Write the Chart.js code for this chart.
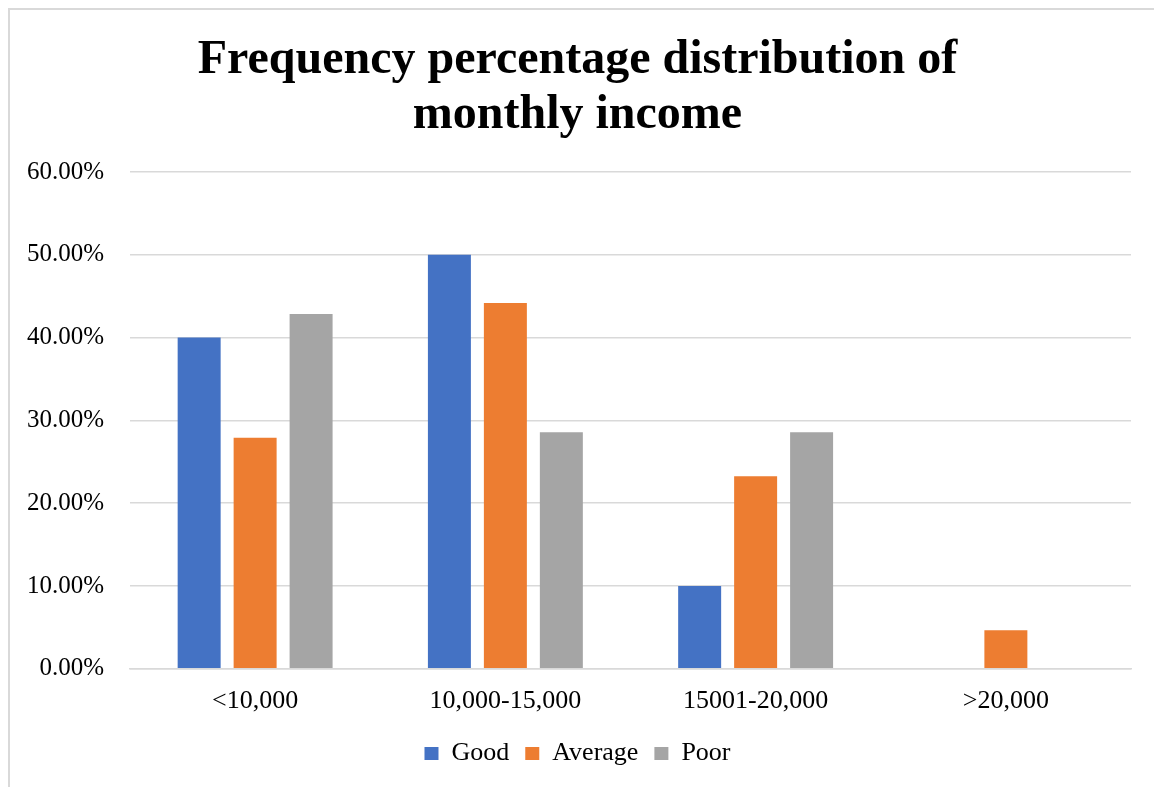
<!DOCTYPE html>
<html>
<head>
<meta charset="utf-8">
<script src="https://cdn.jsdelivr.net/npm/chart.js@4.4.1/dist/chart.umd.min.js"></script>
<style>
    html, body { margin: 0; padding: 0; background: #fff; overflow: hidden; }
    .graph { position: relative; width: 1154px; height: 787px; }
    .frame { position: absolute; left: 8px; top: 8px; width: 1200px; height: 900px;
             border: 2px solid #d9d9d9; box-sizing: border-box; pointer-events: none; }
</style>
</head>
<body>
<div class="graph">
    <canvas id="chart"></canvas>
    <div class="frame"></div>
</div>
<script>
// values (percent)
let categories = ["<10,000", "10,000-15,000", "15001-20,000", ">20,000"];
let good = [40.00, 50.00, 10.00, 0];
let average = [27.91, 44.19, 23.26, 4.65];
let poor = [42.86, 28.57, 28.57, 0];
let seriesNames = ["Good", "Average", "Poor"];
let titleLines = ["Frequency percentage distribution of", "monthly income"];

const serif = "'Liberation Serif', 'Times New Roman', serif";

Chart.defaults.font.family = serif;
Chart.defaults.color = "#000";

let chart = new Chart(document.getElementById("chart"), {
    type: 'bar',
    data: {
        labels: categories,
        datasets: [{
            label: seriesNames[0],
            data: good,
            backgroundColor: "#4472C4",
        }, {
            label: seriesNames[1],
            data: average,
            backgroundColor: "#ED7D31",
        }, {
            label: seriesNames[2],
            data: poor,
            backgroundColor: "#A5A5A5",
        }]
    },
    options: {
        responsive: true,
        maintainAspectRatio: false,
        animation: false,
        categoryPercentage: 0.671,
        barPercentage: 0.768,
        layout: {
            padding: { left: 24, right: 23, top: 0, bottom: 10.6 }
        },
        plugins: {
            title: {
                display: true,
                text: titleLines,
                color: "#000",
                font: { family: serif, size: 48, weight: 'bold', lineHeight: 1.15 },
                padding: { top: 33, bottom: 28.6 },
            },
            legend: {
                display: true,
                position: 'bottom',
                labels: {
                    boxWidth: 14,
                    boxHeight: 13,
                    padding: 16,
                    color: "#000",
                    font: { family: serif, size: 26 },
                },
            },
            tooltip: { enabled: false },
        },
        scales: {
            x: {
                grid: { display: false, drawTicks: false },
                border: { display: true, color: "#d9d9d9", width: 1.5 },
                ticks: {
                    padding: 17,
                    color: "#000",
                    font: { family: serif, size: 26 },
                    maxRotation: 0,
                },
                afterFit: (scale) => { scale.height = 55.6; },
            },
            y: {
                min: 0,
                max: 60,
                grid: { color: "#d9d9d9", lineWidth: 1.5, drawTicks: false },
                border: { display: false },
                ticks: {
                    stepSize: 10,
                    padding: 26,
                    color: "#000",
                    font: { family: serif, size: 25 },
                    callback: (v) => v.toFixed(2) + "%",
                },
                afterFit: (scale) => { scale.width = 106; },
            }
        }
    }
});
</script>
</body>
</html>
